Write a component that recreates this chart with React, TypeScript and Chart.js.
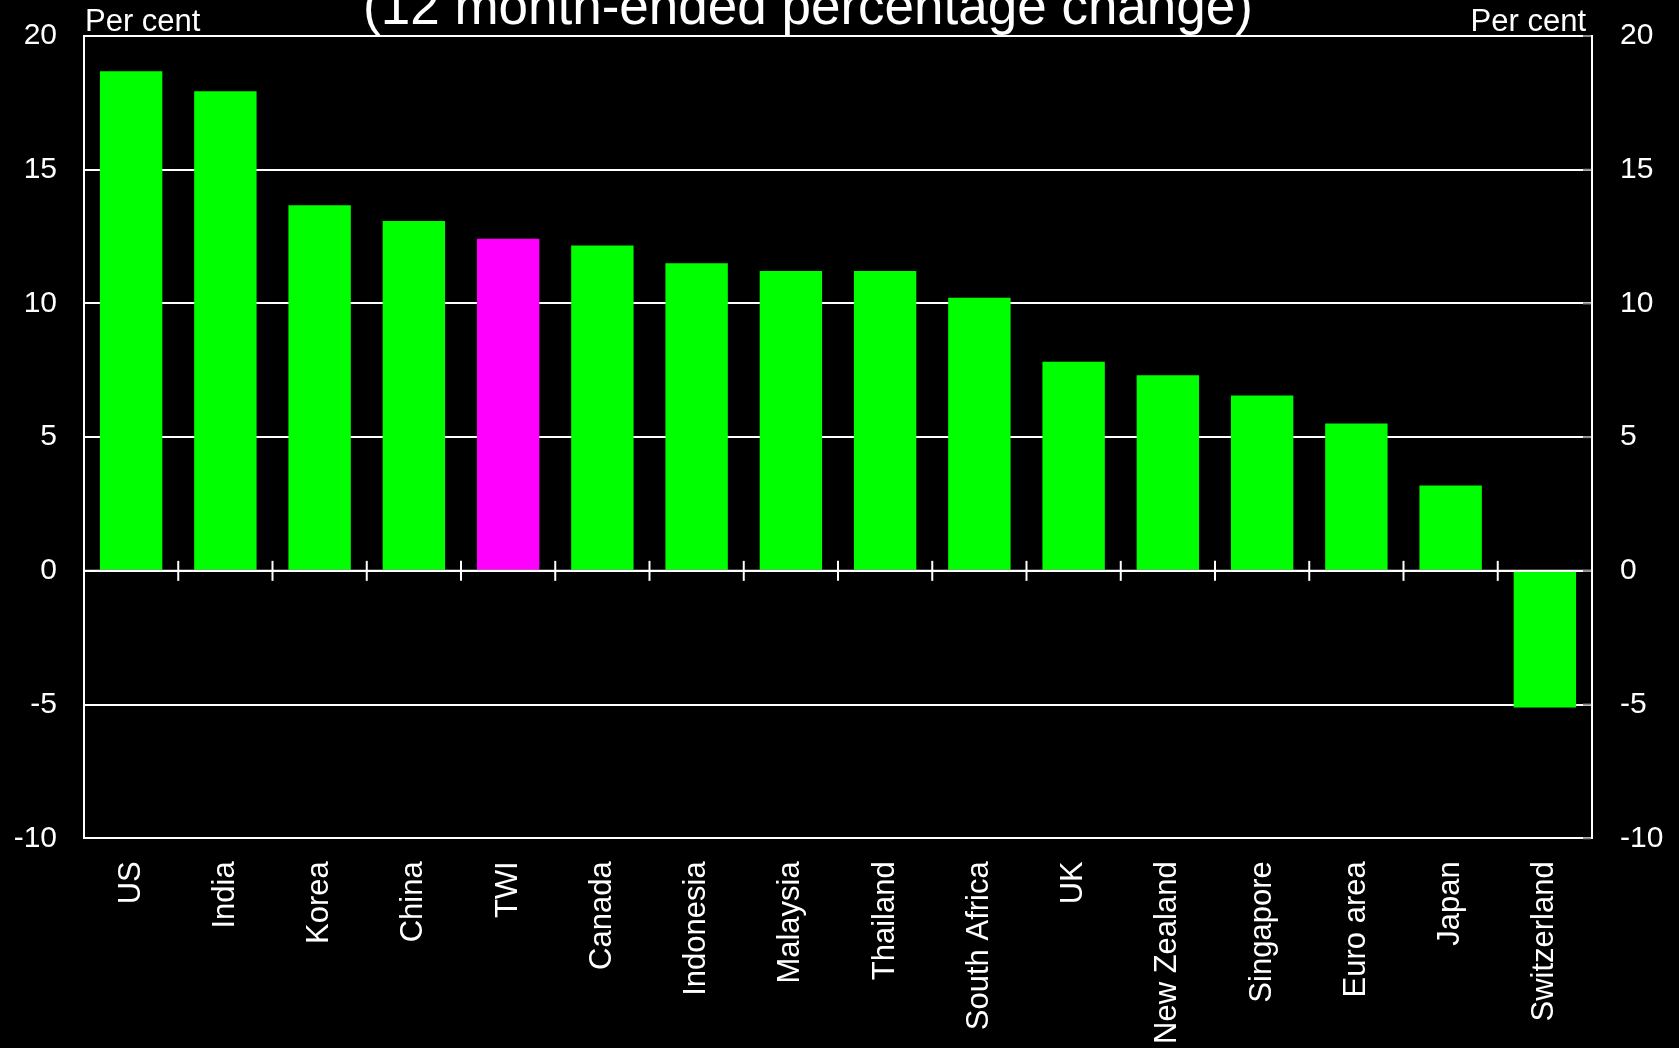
import React, { useEffect, useRef } from "react";
import { Chart, registerables } from "chart.js";

Chart.register(...registerables);

const categories = [
  "US", "India", "Korea", "China", "TWI", "Canada", "Indonesia", "Malaysia",
  "Thailand", "South Africa", "UK", "New Zealand", "Singapore", "Euro area", "Japan", "Switzerland",
];
const values = [18.68, 17.93, 13.67, 13.08, 12.42, 12.17, 11.5, 11.21, 11.21, 10.21, 7.82, 7.31, 6.56, 5.51, 3.19, -5.11];
const highlight = "TWI";
const yTicks = [-10, -5, 0, 5, 10, 15, 20];
const titleText = "(12 month-ended percentage change)";
const unitText = "Per cent";

const FONT = "'Liberation Sans', Arial, sans-serif";

export default function App() {
  const ref = useRef<HTMLCanvasElement | null>(null);

  useEffect(() => {
    document.body.style.margin = "0";
    document.body.style.background = "#000";
    const canvas = ref.current!;
    const overlay = {
      id: "overlay",
      afterDatasetsDraw(chart: any) {
        const { ctx, chartArea, scales } = chart;
        const x = scales.x;
        const y = scales.y;
        const y0 = y.getPixelForValue(0);
        ctx.save();
        ctx.strokeStyle = "#fff";
        ctx.lineWidth = 2;
        ctx.beginPath();
        ctx.moveTo(chartArea.left, y0);
        ctx.lineTo(chartArea.right, y0);
        ctx.stroke();
        for (let i = 1; i < categories.length; i++) {
          const bx = (x.getPixelForTick(i - 1) + x.getPixelForTick(i)) / 2;
          ctx.beginPath();
          ctx.moveTo(bx, y0 - 10);
          ctx.lineTo(bx, y0 + 10);
          ctx.stroke();
        }
        ctx.strokeStyle = "#8a8a8a";
        for (const t of yTicks) {
          const ty = y.getPixelForValue(t);
          ctx.beginPath();
          ctx.moveTo(chartArea.right - 9, ty);
          ctx.lineTo(chartArea.right - 1, ty);
          ctx.stroke();
        }
        ctx.restore();
      },
      afterDraw(chart: any) {
        const { ctx, chartArea } = chart;
        ctx.save();
        ctx.fillStyle = "#fff";
        ctx.textBaseline = "alphabetic";
        ctx.font = `53px ${FONT}`;
        ctx.textAlign = "center";
        ctx.fillText(titleText, 808, 24);
        ctx.font = `31px ${FONT}`;
        ctx.textAlign = "left";
        ctx.fillText(unitText, chartArea.left + 1, 31);
        ctx.textAlign = "right";
        ctx.fillText(unitText, chartArea.right - 6, 31);
        ctx.restore();
      },
    };

    const fixY = (w: number) => (s: any) => {
      s.width = w;
      s.paddingTop = 0;
      s.paddingBottom = 0;
    };

    const chart = new Chart(canvas, {
      type: "bar",
      data: {
        labels: categories,
        datasets: [
          {
            data: values,
            backgroundColor: categories.map((c) => (c === highlight ? "#ff00ff" : "#00ff00")),
            borderWidth: 0,
            barPercentage: 0.662,
            categoryPercentage: 1,
          },
        ],
      },
      options: {
        animation: false,
        responsive: false,
        maintainAspectRatio: false,
        layout: { padding: { top: 36, left: 0, right: 0, bottom: 0 } },
        plugins: { legend: { display: false }, title: { display: false }, tooltip: { enabled: false } },
        scales: {
          x: {
            type: "category",
            offset: true,
            grid: { display: false },
            border: { display: false },
            ticks: {
              color: "#fff",
              font: { family: FONT, size: 31 },
              maxRotation: 90,
              minRotation: 90,
              padding: 15,
              autoSkip: false,
            },
            afterFit: (s: any) => {
              s.height = 209.7;
              s.paddingLeft = 0;
              s.paddingRight = 0;
            },
          },
          y: {
            position: "left",
            min: -10,
            max: 20,
            ticks: { stepSize: 5, color: "#fff", font: { family: FONT, size: 30 }, padding: 27 },
            grid: { color: "#fff", lineWidth: 2, drawTicks: false },
            border: { color: "#fff", width: 2 },
            afterFit: fixY(84),
          },
          y2: {
            position: "right",
            min: -10,
            max: 20,
            ticks: { stepSize: 5, color: "#fff", font: { family: FONT, size: 30 }, padding: 28 },
            grid: { drawOnChartArea: false, drawTicks: false },
            border: { color: "#fff", width: 2 },
            afterFit: fixY(87),
          },
        },
      },
      plugins: [overlay],
    } as any);
    return () => chart.destroy();
  }, []);

  return (
    <div style={{ position: "fixed", left: 0, top: 0, width: 1679, height: 1048, background: "#000" }}>
      <canvas ref={ref} width={1679} height={1048} style={{ display: "block" }} />
    </div>
  );
}
